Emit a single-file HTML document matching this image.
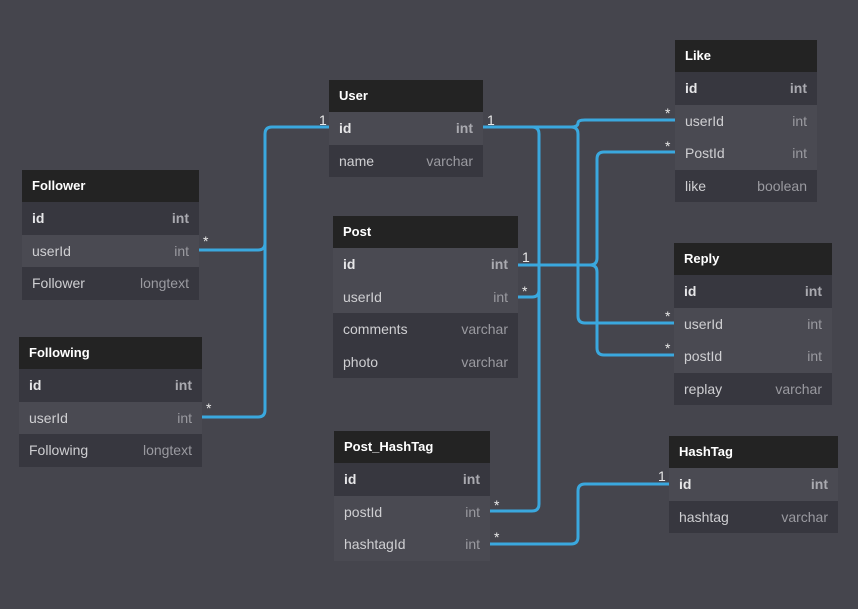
<!DOCTYPE html>
<html><head><meta charset="utf-8"><style>
body{margin:0;width:858px;height:609px;background:#45454d;position:relative;overflow:hidden;font-family:"Liberation Sans",sans-serif;font-size:13px}
.t{position:absolute}
.h{background:#232323;color:#fff;font-weight:bold;height:32px;line-height:31px;padding-left:10px}
.r{height:32.5px;line-height:32px;padding:0 10px;display:flex;justify-content:space-between;background:#37373f;color:#cfcfd2;font-size:14px}
.r.l{background:#4a4a52}
.r span:last-child{color:#9a9aa0}
.r.k{font-weight:bold;color:#e6e6e8}
.r.k span:last-child{color:#aaaab0}
svg{position:absolute;left:0;top:0}
.m{position:absolute;color:#e8e8e8;font-size:14px}
</style></head><body>
<svg width="858" height="609" fill="none" stroke="#3aa8de" stroke-width="3">
<path d="M199 250H258Q265 250 265 243V134Q265 127 272 127H329"/>
<path d="M202 417H258Q265 417 265 410V240"/>
<path d="M483 127H532Q539 127 539 134V504Q539 511 532 511H490"/>
<path d="M518 297H532Q539 297 539 290"/>
<path d="M532 127H571Q578 127 578 134V316Q578 323 585 323H674"/>
<path d="M571 127Q578 127 578 123Q578 120 585 120H675"/>
<path d="M518 265H590Q597 265 597 258V159Q597 152 604 152H675"/>
<path d="M590 265Q597 265 597 272V348Q597 355 604 355H674"/>
<path d="M490 544H571Q578 544 578 537V491Q578 484 585 484H669"/>
</svg>

<div class="t" style="left:329px;top:80px;width:154px"><div class="h">User</div>
<div class="r k l"><span>id</span><span>int</span></div><div class="r"><span>name</span><span>varchar</span></div></div>

<div class="t" style="left:22px;top:170px;width:177px"><div class="h">Follower</div>
<div class="r k"><span>id</span><span>int</span></div><div class="r l"><span>userId</span><span>int</span></div><div class="r"><span>Follower</span><span>longtext</span></div></div>

<div class="t" style="left:19px;top:337px;width:183px"><div class="h">Following</div>
<div class="r k"><span>id</span><span>int</span></div><div class="r l"><span>userId</span><span>int</span></div><div class="r"><span>Following</span><span>longtext</span></div></div>

<div class="t" style="left:333px;top:216px;width:185px"><div class="h">Post</div>
<div class="r k l"><span>id</span><span>int</span></div><div class="r l"><span>userId</span><span>int</span></div><div class="r"><span>comments</span><span>varchar</span></div><div class="r"><span>photo</span><span>varchar</span></div></div>

<div class="t" style="left:334px;top:431px;width:156px"><div class="h">Post_HashTag</div>
<div class="r k"><span>id</span><span>int</span></div><div class="r l"><span>postId</span><span>int</span></div><div class="r l"><span>hashtagId</span><span>int</span></div></div>

<div class="t" style="left:675px;top:40px;width:142px"><div class="h">Like</div>
<div class="r k"><span>id</span><span>int</span></div><div class="r l"><span>userId</span><span>int</span></div><div class="r l"><span>PostId</span><span>int</span></div><div class="r"><span>like</span><span>boolean</span></div></div>

<div class="t" style="left:674px;top:243px;width:158px"><div class="h">Reply</div>
<div class="r k"><span>id</span><span>int</span></div><div class="r l"><span>userId</span><span>int</span></div><div class="r l"><span>postId</span><span>int</span></div><div class="r"><span>replay</span><span>varchar</span></div></div>

<div class="t" style="left:669px;top:436px;width:169px"><div class="h">HashTag</div>
<div class="r k l"><span>id</span><span>int</span></div><div class="r"><span>hashtag</span><span>varchar</span></div></div>

<div class="m" style="left:319px;top:112px">1</div>
<div class="m" style="left:203px;top:233px">*</div>
<div class="m" style="left:206px;top:400px">*</div>
<div class="m" style="left:487px;top:112px">1</div>
<div class="m" style="left:522px;top:249px">1</div>
<div class="m" style="left:522px;top:283px">*</div>
<div class="m" style="left:665px;top:105px">*</div>
<div class="m" style="left:665px;top:138px">*</div>
<div class="m" style="left:665px;top:308px">*</div>
<div class="m" style="left:665px;top:340px">*</div>
<div class="m" style="left:658px;top:468px">1</div>
<div class="m" style="left:494px;top:497px">*</div>
<div class="m" style="left:494px;top:529px">*</div>
</body></html>
